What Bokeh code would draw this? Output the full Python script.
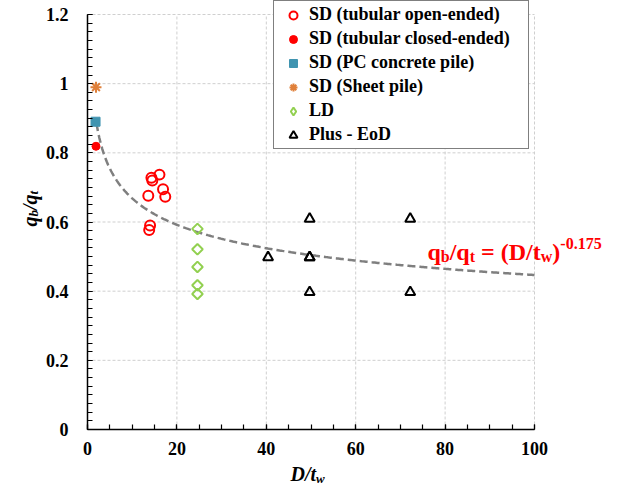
import numpy as np
from bokeh.plotting import figure
from bokeh.models import (Range1d, FixedTicker, Legend, LegendItem, Label, LinearAxis)
from bokeh.embed import file_html
from bokeh.resources import INLINE

# ---------------- data ----------------
open_x = [14.3, 14.5, 16.1, 16.9, 13.6, 17.4, 14.0, 13.8]
open_y = [0.728, 0.720, 0.737, 0.695, 0.676, 0.673, 0.590, 0.577]

closed_x = [1.9]
closed_y = [0.819]

pc_x = [1.8]
pc_y = [0.890]

sheet_x = [1.9]
sheet_y = [0.990]

ld_x = [24.6, 24.6, 24.6, 24.6, 24.6]
ld_y = [0.580, 0.521, 0.470, 0.417, 0.392]

eod_x = [40.4, 49.7, 49.7, 49.7, 49.7, 72.2, 72.2]
eod_y = [0.498, 0.609, 0.498, 0.498, 0.397, 0.609, 0.397]

fit_exponent = -0.175
fit_x_start, fit_x_end = 2.0, 100.0

x_ticks = [0, 20, 40, 60, 80, 100]
x_tick_labels = ["0", "20", "40", "60", "80", "100"]
y_ticks = [0, 0.2, 0.4, 0.6, 0.8, 1.0, 1.2]
y_tick_labels = ["0", "0.2", "0.4", "0.6", "0.8", "1", "1.2"]

legend_labels = ["SD (tubular open-ended)", "SD (tubular closed-ended)",
                 "SD (PC concrete pile)", "SD (Sheet pile)", "LD", "Plus - EoD"]

FONT = "Liberation Serif"

# layout (pixels): plot area inside the canvas
W, H = 620, 486
PX0, PX1 = 87, 534     # page x of x=0 and x=100
PY0, PY1 = 429, 14     # page y of y=0 and y=1.2
xs = (PX1 - PX0) / 100.0
ys = (PY0 - PY1) / 1.2

p = figure(width=W, height=H, output_backend="svg", toolbar_location=None,
           x_axis_location=None, y_axis_location=None,
           x_range=Range1d(-PX0 / xs, 100 + (W - PX1) / xs),
           y_range=Range1d(-(H - PY0) / ys, 1.2 + PY1 / ys),
           min_border_left=0, min_border_right=0, min_border_top=0, min_border_bottom=0)
p.outline_line_color = None
p.background_fill_color = "white"
p.border_fill_color = "white"
for g in p.grid:
    g.visible = False

# grid lines (dashed, light) at major ticks, limited to plot area
p.segment(x0=x_ticks[1:], y0=[y_ticks[0]] * (len(x_ticks) - 1), x1=x_ticks[1:],
          y1=[y_ticks[-1]] * (len(x_ticks) - 1), line_color="#cfcfcf", line_dash="3 2", line_width=1)
p.segment(x0=[x_ticks[0]] * (len(y_ticks) - 1), y0=y_ticks[1:], x1=[x_ticks[-1]] * (len(y_ticks) - 1),
          y1=y_ticks[1:], line_color="#cfcfcf", line_dash="3 2", line_width=1)

# axes fixed at the origin
xaxis = LinearAxis(fixed_location=0, bounds=(0, 100),
                   ticker=FixedTicker(ticks=x_ticks, minor_ticks=list(np.arange(0, 100.1, 5))))
yaxis = LinearAxis(fixed_location=0, bounds=(0, 1.2),
                   ticker=FixedTicker(ticks=y_ticks,
                                      minor_ticks=[round(v, 3) for v in np.arange(0, 1.2001, 0.025)]))
xaxis.major_label_overrides = {t: l for t, l in zip(x_ticks, x_tick_labels)}
yaxis.major_label_overrides = {t: l for t, l in zip(y_ticks, y_tick_labels)}
for ax in (xaxis, yaxis):
    ax.axis_line_color = "black"
    ax.axis_line_width = 1.5
    ax.major_tick_in = 5
    ax.major_tick_out = 0
    ax.minor_tick_in = 5
    ax.minor_tick_out = 0
    ax.major_tick_line_color = "black"
    ax.minor_tick_line_color = "black"
    ax.major_tick_line_width = 1.2
    ax.minor_tick_line_width = 1.2
    ax.major_label_text_font = FONT
    ax.major_label_text_font_style = "bold"
    ax.major_label_text_font_size = "18px"
    ax.major_label_text_color = "black"
xaxis.major_label_standoff = 12
yaxis.major_label_standoff = 19
p.add_layout(xaxis, "below")
p.add_layout(yaxis, "left")

# fit curve
fx = np.linspace(fit_x_start, fit_x_end, 300)
fy = fx ** fit_exponent
p.line(fx, fy, line_color="#7f7f7f", line_width=2.5, line_dash="8 4")

# series
r_open = p.scatter(open_x, open_y, marker="circle", size=10, fill_color=None,
                   line_color="#ff0000", line_width=2)
r_closed = p.scatter(closed_x, closed_y, marker="circle", size=8, fill_color="#ff0000",
                     line_color="#ff0000")
r_pc = p.scatter(pc_x, pc_y, marker="square", size=9, fill_color="#4094b0",
                 line_color="#4094b0")
r_sheet = p.scatter(sheet_x, sheet_y, marker="asterisk", size=11, line_color="#e0803a",
                    line_width=2)
r_ld = p.scatter(ld_x, ld_y, marker="square", angle=np.pi / 4, size=7.5,
                 fill_color=None, line_color="#92d050", line_width=2)
# legend key for LD (diamond shape; a not-a-number point, so nothing is drawn in the plot)
r_ld_key = p.scatter([np.nan], [np.nan], marker="diamond", size=10, fill_color=None,
                     line_color="#92d050", line_width=2)
r_eod = p.scatter(eod_x, eod_y, marker="triangle", size=10, fill_color=None,
                  line_color="black", line_width=2)

legend = Legend(items=[LegendItem(label=l, renderers=[r]) for l, r in
                       zip(legend_labels, [r_open, r_closed, r_pc, r_sheet, r_ld_key, r_eod])],
                location=(273, H - 149))
legend.label_text_font = FONT
legend.label_text_font_style = "bold"
legend.label_text_font_size = "18px"
legend.label_text_color = "black"
legend.border_line_color = "black"
legend.border_line_width = 1.2
legend.background_fill_color = "white"
legend.background_fill_alpha = 1
legend.padding = 3
legend.margin = 0
legend.spacing = 3
legend.glyph_width = 32
legend.glyph_height = 20
legend.label_height = 20
legend.label_standoff = 0
legend.label_width = 216
p.add_layout(legend, "center")

# ---- equation annotation (pieces with sub/superscripts) ----
eq_color = "#ff0000"
eq_x0, eq_y0 = 427 - PX0, PY0 - 251   # pixel offsets from data origin
eq_parts = [("q", 0, 0, 24), ("b", 13.3, -5, 16), ("/q", 22.2, 0, 24), ("t", 42.2, -5, 16),
            ("= (D/t", 53.5, 0, 24), ("w", 113.2, -5, 16), (")", 124.8, 0, 24),
            ("-0.175", 132.8, 8, 16)]
for txt, dx, dy, fs in eq_parts:
    p.add_layout(Label(x=0, y=0, x_offset=eq_x0 + dx, y_offset=eq_y0 + dy, text=txt,
                       text_font=FONT, text_font_style="bold", text_font_size=f"{fs}px",
                       text_color=eq_color, text_baseline="alphabetic", text_align="left"))

# ---- x axis title D/t_w ----
xl_x0, xl_y0 = 290 - PX0, PY0 - 473
for txt, dx, dy, fs in [("D/t", 0, 0, 20), ("w", 25.6, -5, 13)]:
    p.add_layout(Label(x=0, y=0, x_offset=xl_x0 + dx, y_offset=xl_y0 + dy, text=txt,
                       text_font=FONT, text_font_style="bold italic", text_font_size=f"{fs}px",
                       text_color="black", text_baseline="alphabetic", text_align="left"))

# ---- y axis title q_b/q_t (rotated) ----
yl_x0, yl_y0 = 29 - PX0, PY0 - 226
for txt, along, down, fs in [("q", 0, 0, 20), ("b", 10, 4, 13), ("/q", 16.5, 0, 20), ("t", 32.1, 4, 13)]:
    p.add_layout(Label(x=0, y=0, x_offset=yl_x0 + down, y_offset=yl_y0 + along, text=txt,
                       angle=np.pi / 2,
                       text_font=FONT, text_font_style="bold italic", text_font_size=f"{fs}px",
                       text_color="black", text_baseline="alphabetic", text_align="left"))

open("out.html", "w").write(file_html(p, INLINE))
